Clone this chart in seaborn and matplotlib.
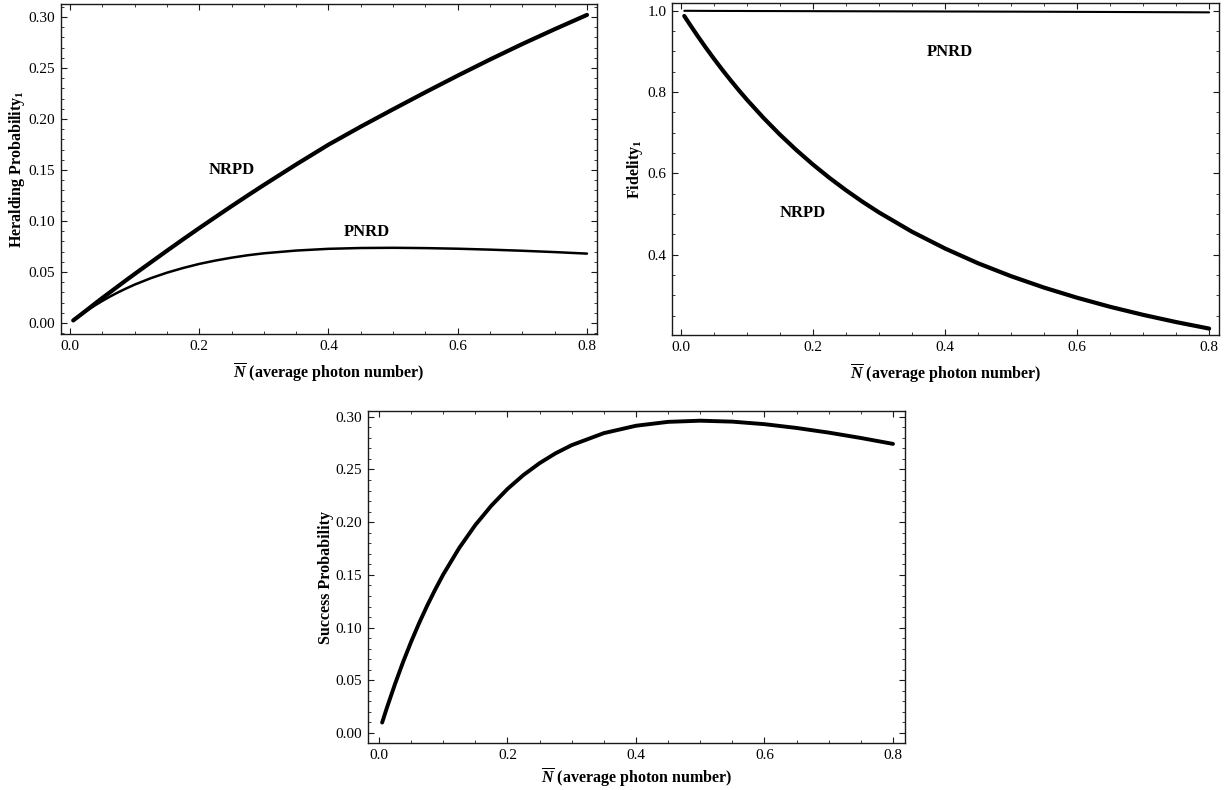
import numpy as np
import pandas as pd
import matplotlib
matplotlib.use("Agg")
import matplotlib.pyplot as plt
from matplotlib.ticker import MultipleLocator, FormatStrFormatter
import seaborn as sns

# ---------------- data ----------------
n_grid = [0.005, 0.0125, 0.025, 0.0375, 0.05, 0.0625, 0.075, 0.0875, 0.1,
          0.125, 0.15, 0.175, 0.2, 0.225, 0.25, 0.275, 0.3, 0.35, 0.4,
          0.45, 0.5, 0.55, 0.6, 0.65, 0.7, 0.75, 0.8]

herald_nrpd = [0.0025, 0.0061, 0.0122, 0.0184, 0.0245, 0.0304, 0.0363, 0.0422, 0.0480,
               0.0594, 0.0708, 0.0820, 0.0930, 0.1038, 0.1145, 0.1250, 0.1353, 0.1554, 0.1748,
               0.1925, 0.2095, 0.2262, 0.2425, 0.2583, 0.2735, 0.2880, 0.3020]
herald_pnrd = [0.0025, 0.0060, 0.0116, 0.0168, 0.0216, 0.0261, 0.0302, 0.0340, 0.0376,
               0.0439, 0.0493, 0.0539, 0.0579, 0.0612, 0.0640, 0.0664, 0.0683, 0.0710, 0.0727,
               0.0735, 0.0737, 0.0734, 0.0728, 0.0719, 0.0708, 0.0695, 0.0680]

fid_nrpd = [0.987, 0.9685, 0.9384, 0.9094, 0.8816, 0.8549, 0.8293, 0.8046, 0.7809,
            0.7363, 0.6950, 0.6569, 0.6215, 0.5887, 0.5583, 0.5300, 0.5037, 0.4562, 0.4150,
            0.3787, 0.3469, 0.3188, 0.2939, 0.2716, 0.2518, 0.2340, 0.2180]
fid_pnrd = [0.9998, 0.9998, 0.9997, 0.9996, 0.9995, 0.9995, 0.9994, 0.9994, 0.9993,
            0.9992, 0.9991, 0.9990, 0.9989, 0.9988, 0.9987, 0.9986, 0.9985, 0.9983, 0.9981,
            0.9979, 0.9977, 0.9975, 0.9972, 0.9969, 0.9966, 0.9963, 0.9960]

success = [0.0099, 0.0241, 0.0464, 0.0672, 0.0864, 0.1042, 0.1207, 0.1360, 0.1503,
           0.1756, 0.1973, 0.2157, 0.2315, 0.2448, 0.2560, 0.2654, 0.2731, 0.2845, 0.2915,
           0.2952, 0.2963, 0.2954, 0.2930, 0.2894, 0.2850, 0.2799, 0.2743]

xlabel_txt = r"$\overline{N}$ (average photon number)"

# ---------------- style ----------------
sns.set_theme(style="ticks")
plt.rcParams["font.family"] = ["Liberation Serif", "DejaVu Serif"]
plt.rcParams["mathtext.fontset"] = "custom"
plt.rcParams["mathtext.rm"] = "Liberation Serif:bold"
plt.rcParams["mathtext.bf"] = "Liberation Serif:bold"
plt.rcParams["mathtext.it"] = "Liberation Serif:italic:bold"
plt.rcParams["text.color"] = "black"
plt.rcParams["axes.labelcolor"] = "black"
plt.rcParams["xtick.color"] = "black"
plt.rcParams["ytick.color"] = "black"

fig = plt.figure(figsize=(12.29, 7.9), dpi=100)
ax1 = fig.add_axes([61/1229, 1-334/790, 536/1229, 330/790])
ax2 = fig.add_axes([672/1229, 1-335/790, 547/1229, 332/790])
ax3 = fig.add_axes([368/1229, 1-743/790, 537/1229, 332/790])

def style_axes(ax, ymaj, ymin, yfmt, xpad=6):
    for s in ax.spines.values():
        s.set_visible(True)
        s.set_linewidth(1.0)
        s.set_color("#1a1a1a")
    ax.xaxis.set_major_locator(MultipleLocator(0.2))
    ax.xaxis.set_minor_locator(MultipleLocator(0.05))
    ax.xaxis.set_major_formatter(FormatStrFormatter("%.1f"))
    ax.yaxis.set_major_locator(MultipleLocator(ymaj))
    ax.yaxis.set_minor_locator(MultipleLocator(ymin))
    ax.yaxis.set_major_formatter(FormatStrFormatter(yfmt))
    ax.tick_params(which="both", direction="in", top=True, right=True,
                   colors="#1a1a1a", labelcolor="black", labelsize=11)
    ax.tick_params(which="major", length=4, width=0.8, pad=4)
    ax.tick_params(which="minor", length=2, width=0.6)
    ax.set_xlabel(xlabel_txt, fontsize=11.5, fontweight="bold", labelpad=xpad, color="black")

df = pd.DataFrame({"N": n_grid, "hn": herald_nrpd, "hp": herald_pnrd,
                   "fn": fid_nrpd, "fp": fid_pnrd, "s": success})

# Panel 1
sns.lineplot(data=df, x="N", y="hn", ax=ax1, color="black", linewidth=3.0)
sns.lineplot(data=df, x="N", y="hp", ax=ax1, color="black", linewidth=1.8)
ax1.set_xlim(-0.0139, 0.8155)
ax1.set_ylim(-0.0108, 0.3127)
style_axes(ax1, 0.05, 0.01, "%.2f")
ax1.set_ylabel(r"Heralding Probability$_1$", fontsize=11.5, fontweight="bold",
               labelpad=1.5, color="black")
ax1.text(0.251, 0.150, "NRPD", fontsize=12, fontweight="bold", ha="center", va="center", color="black")
ax1.text(0.460, 0.089, "PNRD", fontsize=12, fontweight="bold", ha="center", va="center", color="black")

# Panel 2
sns.lineplot(data=df, x="N", y="fn", ax=ax2, color="black", linewidth=3.0)
sns.lineplot(data=df, x="N", y="fp", ax=ax2, color="black", linewidth=1.5)
ax2.set_xlim(-0.0136, 0.815)
ax2.set_ylim(0.2022, 1.019)
style_axes(ax2, 0.2, 0.05, "%.1f")
ax2.set_ylabel(r"Fidelity$_1$", fontsize=11.5, fontweight="bold", labelpad=1.5, color="black")
ax2.text(0.408, 0.898, "PNRD", fontsize=12, fontweight="bold", ha="center", va="center", color="black")
ax2.text(0.185, 0.502, "NRPD", fontsize=12, fontweight="bold", ha="center", va="center", color="black")

# Panel 3
sns.lineplot(data=df, x="N", y="s", ax=ax3, color="black", linewidth=2.8)
ax3.set_xlim(-0.017, 0.8187)
ax3.set_ylim(-0.0095, 0.3055)
style_axes(ax3, 0.05, 0.01, "%.2f", xpad=3)
ax3.set_ylabel("Success Probability", fontsize=11.5, fontweight="bold", labelpad=1.5, color="black")

fig.savefig("out.png", dpi=100)
